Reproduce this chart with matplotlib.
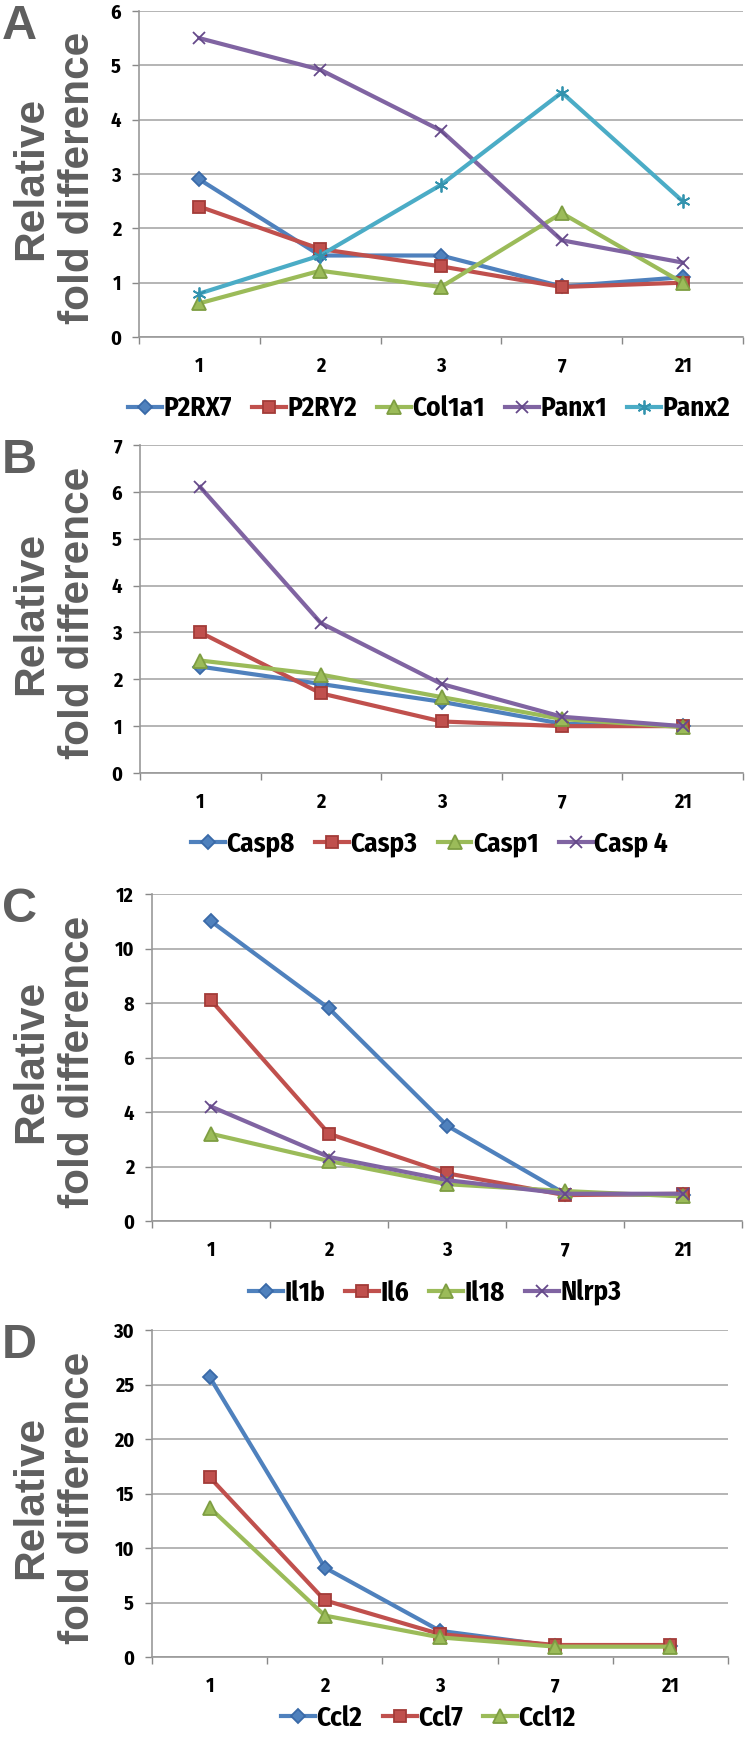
import matplotlib
matplotlib.use("Agg")
import matplotlib.pyplot as plt

days = ["1", "2", "3", "7", "21"]

# panel A
genes_a = ["P2RX7", "P2RY2", "Col1a1", "Panx1", "Panx2"]
p2rx7 = [2.9, 1.5, 1.5, 0.93, 1.1]
p2ry2 = [2.4, 1.62, 1.3, 0.92, 1.0]
col1a1 = [0.62, 1.22, 0.92, 2.28, 1.0]
panx1 = [5.5, 4.92, 3.8, 1.78, 1.37]
panx2 = [0.8, 1.5, 2.8, 4.5, 2.5]

# panel B
genes_b = ["Casp8", "Casp3", "Casp1", "Casp 4"]
casp8 = [2.27, 1.9, 1.52, 1.05, 1.0]
casp3 = [3.0, 1.7, 1.1, 1.0, 1.0]
casp1 = [2.4, 2.1, 1.62, 1.15, 0.98]
casp4 = [6.1, 3.2, 1.9, 1.2, 1.0]

# panel C
genes_c = ["Il1b", "Il6", "Il18", "Nlrp3"]
il1b = [11.0, 7.8, 3.5, 1.0, 0.95]
il6 = [8.1, 3.2, 1.75, 0.95, 1.0]
il18 = [3.2, 2.2, 1.35, 1.1, 0.9]
nlrp3 = [4.2, 2.35, 1.5, 1.0, 1.0]

# panel D
genes_d = ["Ccl2", "Ccl7", "Ccl12"]
ccl2 = [25.7, 8.2, 2.4, 1.0, 1.0]
ccl7 = [16.5, 5.2, 2.1, 1.1, 1.1]
ccl12 = [13.7, 3.8, 1.8, 0.95, 0.95]

colors = ["#4F81BD", "#C0504D", "#9BBB59", "#8064A2", "#4BACC6"]
edges = ["#3A6AA8", "#A33B38", "#7E9E42", "#65498A", "#3393AE"]
markers = ["D", "s", "^", "x", (6, 2, 0)]
msizes = [7.5, 9, 9.5, 9, 10]

narrow = ["Fira Sans Condensed", "IBM Plex Sans Condensed", "DejaVu Sans"]
label_font = ["Liberation Sans", "Arimo", "DejaVu Sans"]
gray = "#5f5f5f"

W, H = 748, 1739
fig = plt.figure(figsize=(W / 100, H / 100), dpi=100)


def draw_panel(box, names, series, ymax, ystep, letter, ncol, leg_y):
    l, t, r, b = box
    ax = fig.add_axes([l / W, 1 - b / H, (r - l) / W, (b - t) / H])
    x = list(range(len(days)))
    for i, (name, vals) in enumerate(zip(names, series)):
        ax.plot(x, vals, color=colors[i], lw=3.0, marker=markers[i],
                ms=msizes[i], mfc=colors[i], mec=edges[i], mew=1.3,
                label=name, zorder=3 + i * 0.1)
    ax.set_xlim(-0.5, len(days) - 0.5)
    ax.set_ylim(0, ymax)
    yt = list(range(0, ymax + 1, ystep))
    ax.set_yticks(yt)
    ax.set_yticklabels([str(v) for v in yt])
    ax.set_xticks(x)
    ax.set_xticklabels(days)
    ax.set_xticks([v - 0.5 for v in range(len(days) + 1)], minor=True)
    ax.tick_params(axis="x", which="major", length=0, pad=14)
    ax.tick_params(axis="x", which="minor", length=5, width=1, color="#888888", direction="out")
    ax.tick_params(axis="y", length=5, width=1, color="#888888", pad=8)
    for lab in ax.get_xticklabels() + ax.get_yticklabels():
        lab.set_family(narrow)
        lab.set_fontweight("bold")
        lab.set_fontsize(14.5)
    ax.grid(axis="y", color="#b4b4b4", lw=1.4)
    ax.set_axisbelow(True)
    for s in ["top", "right"]:
        ax.spines[s].set_visible(False)
    for s in ["left", "bottom"]:
        ax.spines[s].set_color("#999999")
        ax.spines[s].set_linewidth(1.2)
    ax.legend(loc="center", bbox_to_anchor=(0.48, leg_y), ncol=ncol,
              frameon=False, handlelength=1.25, handletextpad=0.05,
              columnspacing=0.75, borderaxespad=0, borderpad=0,
              prop={"family": narrow, "weight": "bold", "size": 19.5})
    fig.text(2 / W, 1 - (t - 7) / H, letter, fontsize=35, fontweight="bold",
             color=gray, family=label_font, ha="left", va="top")
    yc = 1 - ((t + b) / 2 + 4) / H
    fig.text(31 / W, yc, "Relative", rotation=90, ha="center", va="center",
             fontsize=30.5, fontweight="bold", color=gray, family=label_font)
    fig.text(78 / W, yc, "fold difference", rotation=90, ha="center", va="center",
             fontsize=30.5, fontweight="bold", color=gray, family=label_font)
    return ax


draw_panel((139, 11, 743, 337), genes_a, [p2rx7, p2ry2, col1a1, panx1, panx2], 6, 1, "A", 5, -0.22)
draw_panel((140, 445, 743, 773), genes_b, [casp8, casp3, casp1, casp4], 7, 1, "B", 4, -0.215)
draw_panel((152, 894, 742, 1221), genes_c, [il1b, il6, il18, nlrp3], 12, 2, "C", 4, -0.22)
draw_panel((152, 1330, 728, 1657), genes_d, [ccl2, ccl7, ccl12], 30, 5, "D", 3, -0.187)

fig.savefig("out.png", dpi=100)
